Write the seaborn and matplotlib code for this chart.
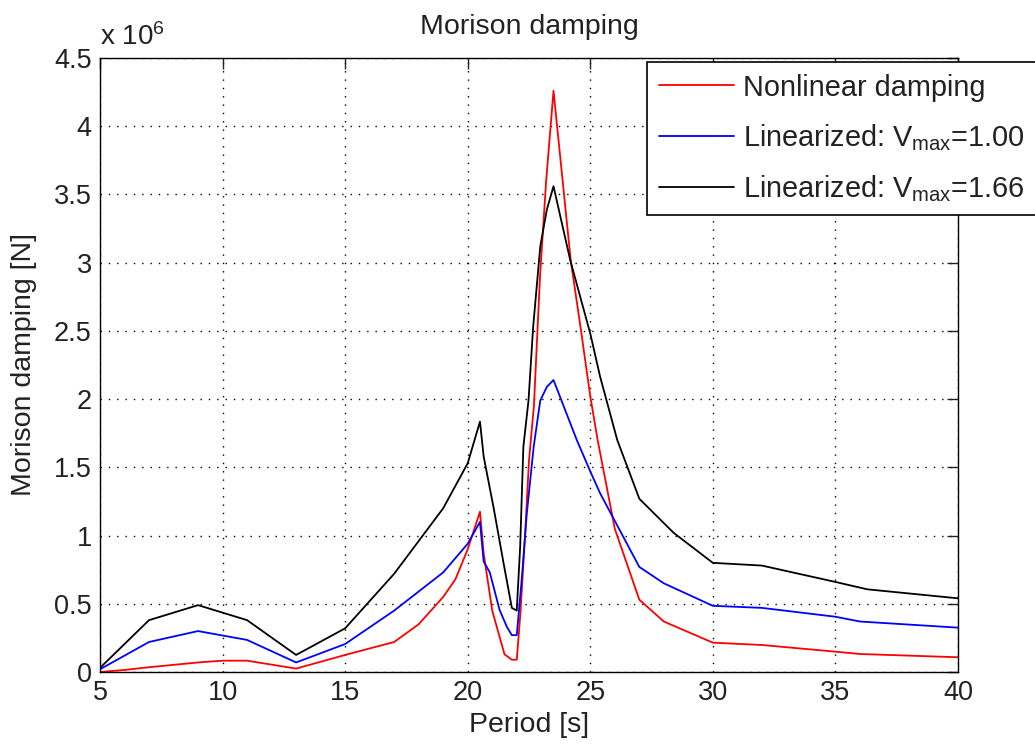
import numpy as np
import pandas as pd
import matplotlib
matplotlib.use("Agg")
import matplotlib.pyplot as plt
import seaborn as sns

# ---- data (values in units of 1e6 N) ----
period_nonlin = [5, 6, 7, 9, 10, 11, 13, 15, 17, 18, 19, 19.5, 20, 20.5, 20.65, 21, 21.5, 21.8, 22,
                 22.15, 22.35, 22.5, 22.7, 22.95, 23.2, 23.5, 24.2, 24.6, 25, 25.3, 26, 27, 28, 30, 32, 35, 36, 40]
damp_nonlin = [0.0, 0.015, 0.035, 0.07, 0.083, 0.083, 0.025, 0.125, 0.22, 0.35, 0.55, 0.68, 0.9, 1.175, 0.87,
               0.45, 0.13, 0.09, 0.09, 0.43, 1.04, 1.55, 1.95, 2.9, 3.6, 4.26, 3.02, 2.53, 2.02, 1.70, 1.05,
               0.53, 0.37, 0.215, 0.198, 0.149, 0.132, 0.108]

period_lin100 = [5, 7, 9, 11, 13, 15, 17, 18, 19, 20, 20.5, 20.65, 20.9, 21.3, 21.6, 21.8, 22, 22.2, 22.41,
                 22.69, 22.96, 23.23, 23.5, 24.45, 25, 25.4, 27, 28, 30, 32, 35, 36, 40]
damp_lin100 = [0.02, 0.22, 0.30, 0.235, 0.07, 0.205, 0.45, 0.59, 0.73, 0.94, 1.10, 0.81, 0.73, 0.455, 0.33,
               0.27, 0.27, 0.67, 1.16, 1.65, 1.99, 2.09, 2.14, 1.70, 1.47, 1.31, 0.77, 0.65, 0.485, 0.47,
               0.405, 0.37, 0.325]

period_lin166 = [5, 7, 9, 11, 13, 15, 17, 18, 19, 20, 20.5, 20.65, 21.05, 21.46, 21.8, 22, 22.14, 22.27,
                 22.48, 22.67, 22.96, 23.23, 23.5, 24.18, 25, 25.4, 26.1, 27, 28.4, 30, 32, 35, 36.3, 40]
damp_lin166 = [0.03, 0.38, 0.49, 0.38, 0.125, 0.32, 0.72, 0.96, 1.2, 1.53, 1.835, 1.58, 1.21, 0.80, 0.47,
               0.45, 0.92, 1.65, 1.99, 2.53, 3.12, 3.39, 3.56, 3.02, 2.48, 2.165, 1.70, 1.27, 1.02, 0.80,
               0.78, 0.66, 0.606, 0.54]

labels = ["Nonlinear damping",
          r"Linearized: V$_{\mathregular{max}}$=1.00",
          r"Linearized: V$_{\mathregular{max}}$=1.66"]
colors = ["#ff0000", "#0000ff", "#000000"]

df = pd.concat([
    pd.DataFrame({"Period": period_nonlin, "Damping": damp_nonlin, "Series": labels[0]}),
    pd.DataFrame({"Period": period_lin100, "Damping": damp_lin100, "Series": labels[1]}),
    pd.DataFrame({"Period": period_lin166, "Damping": damp_lin166, "Series": labels[2]}),
], ignore_index=True)

sns.set_style("white")
plt.rcParams["font.family"] = ["Liberation Sans", "DejaVu Sans"]
plt.rcParams["mathtext.fontset"] = "custom"
plt.rcParams["mathtext.rm"] = "Liberation Sans"
plt.rcParams["mathtext.it"] = "Liberation Sans"

fig = plt.figure(figsize=(10.35, 7.49), dpi=100)
ax = fig.add_axes([100 / 1035, 77 / 749, 858 / 1035, 614 / 749])

sns.lineplot(data=df, x="Period", y="Damping", hue="Series", palette=dict(zip(labels, colors)),
             sort=False, estimator=None, linewidth=1.3, ax=ax, legend=False)

ax.set_xlim(5, 40)
ax.set_ylim(0, 4.5)
ax.set_xticks([5, 10, 15, 20, 25, 30, 35, 40])
ax.set_yticks([0, 0.5, 1, 1.5, 2, 2.5, 3, 3.5, 4, 4.5])
ax.set_yticklabels(["0", "0.5", "1", "1.5", "2", "2.5", "3", "3.5", "4", "4.5"])
ax.grid(True, color="black", linestyle=(0, (1, 5)), linewidth=1.0)
ax.tick_params(direction="in", length=8, width=1, top=True, right=True, labelsize=19.5,
               colors="#222222", pad=6)
for s in ax.spines.values():
    s.set_color("black")
    s.set_linewidth(1.0)
    s.set_visible(True)

ax.set_xlabel("Period [s]", fontsize=20.5, color="#222222", labelpad=4)
ax.set_ylabel("Morison damping [N]", fontsize=20.5, color="#222222", labelpad=12)
ax.set_title("Morison damping", fontsize=20.5, color="#222222", pad=17)
ax.text(0.0, 1.012, r"x 10$^{6}$", transform=ax.transAxes, fontsize=20, color="#222222",
        ha="left", va="bottom")

handles = [plt.Line2D([], [], color=c, linewidth=1.3) for c in colors]
leg = ax.legend(handles, labels, loc="upper right", bbox_to_anchor=(1.091, 0.9935),
                borderaxespad=0, fontsize=20.8, frameon=True, fancybox=False, framealpha=1,
                edgecolor="black", handlelength=2.6, handletextpad=0.3, labelspacing=0.7,
                borderpad=0.4)
leg.get_frame().set_linewidth(1.2)
for t in leg.get_texts():
    t.set_color("#222222")

fig.savefig("out.png", dpi=100)
